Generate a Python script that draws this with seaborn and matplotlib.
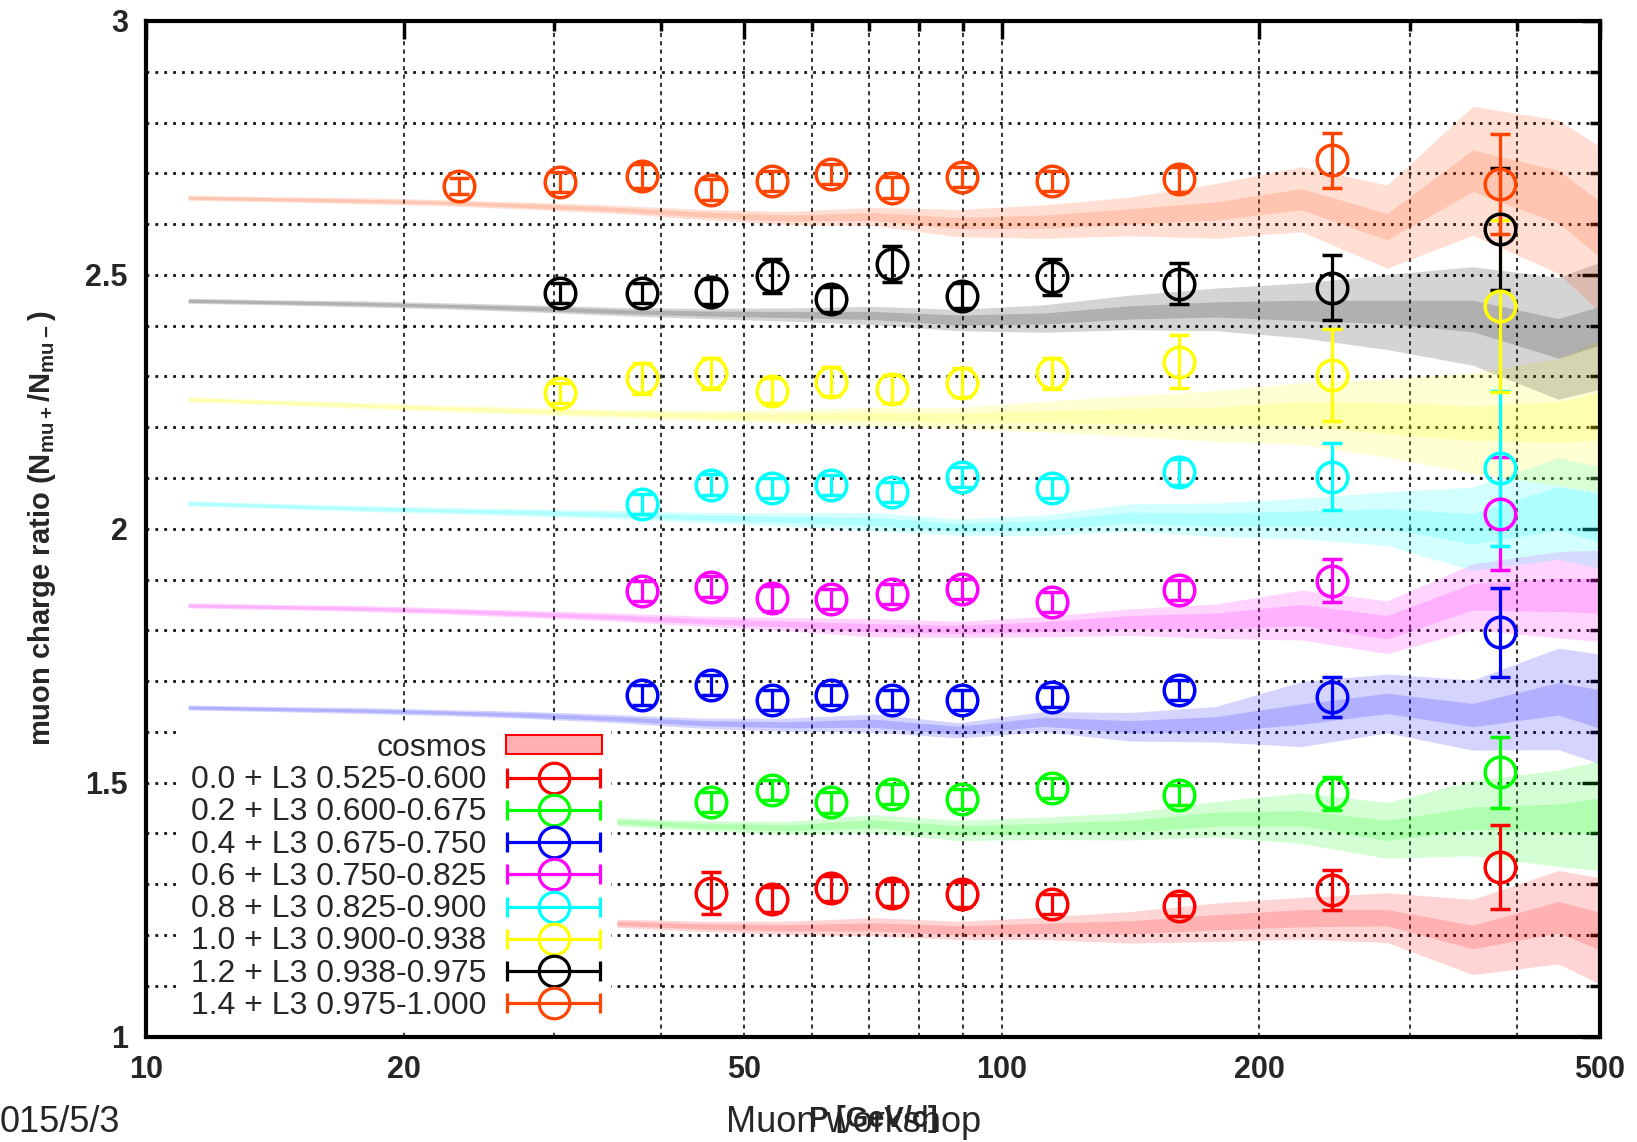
import numpy as np
import pandas as pd
import matplotlib
matplotlib.use("Agg")
import matplotlib.pyplot as plt
import seaborn as sns
from matplotlib.patches import Patch
from matplotlib.container import ErrorbarContainer
from matplotlib.legend_handler import HandlerErrorbar
from matplotlib.ticker import FixedLocator, FixedFormatter, NullFormatter

sns.set_theme(style="white")
plt.rcParams["font.family"] = ["Liberation Sans", "DejaVu Sans"]
plt.rcParams["mathtext.fontset"] = "custom"
plt.rcParams["mathtext.rm"] = "Liberation Sans"
plt.rcParams["mathtext.bf"] = "Liberation Sans:bold"

# ---------------- measured charge ratios (offset added per band) ----------------
P = [23.2, 30.5, 38.0, 45.7, 53.9, 63.1, 74.5, 89.9, 114.5, 161.0, 243.0, 382.0]

labels = [
    "0.0 + L3 0.525-0.600",
    "0.2 + L3 0.600-0.675",
    "0.4 + L3 0.675-0.750",
    "0.6 + L3 0.750-0.825",
    "0.8 + L3 0.825-0.900",
    "1.0 + L3 0.900-0.938",
    "1.2 + L3 0.938-0.975",
    "1.4 + L3 0.975-1.000",
]
colors = ["#ff0000", "#00ff00", "#0000ff", "#ff00ff",
          "#00ffff", "#ffff00", "#000000", "#ff4500"]

# first momentum bin index for each series
first_bin = [3, 3, 2, 2, 2, 1, 1, 0]

ratio_red = [1.283, 1.270, 1.292, 1.282, 1.280, 1.261, 1.258, 1.289, 1.334]
ratio_green = [1.462, 1.485, 1.461, 1.477, 1.468, 1.489, 1.476, 1.479, 1.520]
ratio_blue = [1.673, 1.692, 1.663, 1.673, 1.663, 1.663, 1.669, 1.682, 1.669, 1.796]
ratio_magenta = [1.878, 1.886, 1.863, 1.861, 1.871, 1.881, 1.856, 1.879, 1.898, 2.030]
ratio_cyan = [2.049, 2.087, 2.080, 2.086, 2.073, 2.102, 2.080, 2.112, 2.102, 2.119]
ratio_yellow = [2.267, 2.296, 2.306, 2.272, 2.290, 2.275, 2.288, 2.306, 2.329, 2.303, 2.439]
ratio_black = [2.464, 2.464, 2.467, 2.498, 2.452, 2.521, 2.459, 2.496, 2.483, 2.475, 2.590]
ratio_orange = [2.675, 2.683, 2.695, 2.668, 2.685, 2.698, 2.672, 2.693, 2.685, 2.688, 2.726, 2.679]

err_red = [0.041, 0.025, 0.025, 0.025, 0.025, 0.020, 0.020, 0.039, 0.082]
err_green = [0.020, 0.020, 0.020, 0.020, 0.020, 0.020, 0.020, 0.033, 0.069]
err_blue = [0.020, 0.020, 0.020, 0.020, 0.020, 0.020, 0.020, 0.020, 0.040, 0.087]
err_magenta = [0.020, 0.020, 0.025, 0.020, 0.020, 0.020, 0.020, 0.020, 0.043, 0.111]
err_cyan = [0.020, 0.020, 0.020, 0.020, 0.020, 0.020, 0.020, 0.025, 0.066, 0.152]
err_yellow = [0.020, 0.030, 0.030, 0.025, 0.028, 0.027, 0.028, 0.030, 0.052, 0.090, 0.170]
err_black = [0.020, 0.020, 0.025, 0.033, 0.025, 0.035, 0.025, 0.035, 0.041, 0.064, 0.120]
err_orange = [0.015, 0.020, 0.023, 0.020, 0.020, 0.020, 0.020, 0.020, 0.020, 0.025, 0.054, 0.098]

ratios = [ratio_red, ratio_green, ratio_blue, ratio_magenta,
          ratio_cyan, ratio_yellow, ratio_black, ratio_orange]
errors = [err_red, err_green, err_blue, err_magenta,
          err_cyan, err_yellow, err_black, err_orange]

# ---------------- cosmos simulation bands ----------------
P_band = [11.2, 14.1, 17.8, 22.4, 28.2, 35.5, 44.7, 56.2, 70.8,
          89.1, 112, 141, 178, 224, 282, 355, 447, 500]
P_band_low = P_band[5:]

band_red = [1.223, 1.217, 1.214, 1.216, 1.209, 1.213, 1.215, 1.225, 1.233, 1.234, 1.196, 1.235, 1.208]
band_green = [1.423, 1.415, 1.411, 1.419, 1.406, 1.410, 1.414, 1.428, 1.430, 1.406, 1.430, 1.430, 1.435]
band_blue = [1.648, 1.645, 1.642, 1.638, 1.633, 1.626, 1.617, 1.614, 1.617,
             1.603, 1.620, 1.610, 1.615, 1.635, 1.656, 1.633, 1.665, 1.645]
band_magenta = [1.849, 1.846, 1.843, 1.838, 1.832, 1.826, 1.818, 1.812, 1.805,
                1.802, 1.807, 1.816, 1.818, 1.830, 1.806, 1.866, 1.870, 1.868]
band_cyan = [2.050, 2.045, 2.040, 2.036, 2.032, 2.028, 2.022, 2.018, 2.014,
             2.003, 2.007, 2.022, 2.018, 2.020, 2.020, 2.000, 2.040, 2.022]
band_yellow = [2.255, 2.249, 2.243, 2.237, 2.232, 2.227, 2.223, 2.221, 2.221,
               2.218, 2.221, 2.222, 2.222, 2.227, 2.218, 2.208, 2.210, 2.222]
band_black = [2.449, 2.446, 2.443, 2.439, 2.434, 2.428, 2.424, 2.422, 2.420,
              2.411, 2.414, 2.426, 2.432, 2.430, 2.427, 2.419, 2.375, 2.400]
band_orange = [2.652, 2.649, 2.646, 2.642, 2.636, 2.629, 2.619, 2.612, 2.615,
               2.602, 2.605, 2.615, 2.626, 2.649, 2.595, 2.705, 2.654, 2.590]

# half widths: inner (1 sigma) and outer (2 sigma)
inner_lowP = [0.003, 0.003, 0.003, 0.003, 0.004, 0.004, 0.005, 0.006, 0.008]
outer_lowP = [0.005, 0.005, 0.006, 0.006, 0.007, 0.008, 0.010, 0.013, 0.018]

inner_red = [0.004, 0.005, 0.006, 0.008, 0.009, 0.010, 0.013, 0.015, 0.017, 0.016, 0.023, 0.031, 0.037]
outer_red = [0.008, 0.010, 0.013, 0.018, 0.018, 0.022, 0.031, 0.038, 0.041, 0.049, 0.074, 0.092, 0.105]
inner_green = [0.004, 0.005, 0.006, 0.008, 0.009, 0.010, 0.012, 0.014, 0.015, 0.020, 0.022, 0.028, 0.035]
outer_green = [0.008, 0.010, 0.013, 0.018, 0.020, 0.022, 0.027, 0.035, 0.050, 0.055, 0.074, 0.095, 0.108]
inner_blue = inner_lowP + [0.008, 0.009, 0.012, 0.015, 0.020, 0.020, 0.023, 0.032, 0.038]
outer_blue = outer_lowP + [0.015, 0.020, 0.028, 0.035, 0.064, 0.058, 0.069, 0.100, 0.108]
inner_magenta = inner_lowP + [0.008, 0.010, 0.013, 0.016, 0.021, 0.023, 0.026, 0.033, 0.034]
outer_magenta = outer_lowP + [0.016, 0.020, 0.026, 0.034, 0.049, 0.052, 0.065, 0.085, 0.090]
inner_cyan = inner_lowP + [0.008, 0.009, 0.011, 0.013, 0.015, 0.020, 0.030, 0.043, 0.048]
outer_cyan = outer_lowP + [0.016, 0.020, 0.027, 0.033, 0.040, 0.053, 0.082, 0.100, 0.100]
inner_yellow = inner_lowP + [0.010, 0.012, 0.015, 0.018, 0.023, 0.031, 0.034, 0.040, 0.047]
outer_yellow = outer_lowP + [0.021, 0.030, 0.040, 0.050, 0.061, 0.077, 0.099, 0.125, 0.150]
inner_black = inner_lowP + [0.010, 0.011, 0.013, 0.015, 0.020, 0.023, 0.031, 0.039, 0.038]
outer_black = outer_lowP + [0.021, 0.027, 0.034, 0.042, 0.054, 0.074, 0.097, 0.120, 0.125]
inner_orange = inner_lowP + [0.011, 0.013, 0.015, 0.018, 0.021, 0.026, 0.041, 0.052, 0.055]
outer_orange = outer_lowP + [0.027, 0.033, 0.038, 0.054, 0.064, 0.082, 0.127, 0.151, 0.163]

band_centers = [band_red, band_green, band_blue, band_magenta,
                band_cyan, band_yellow, band_black, band_orange]
band_inner = [inner_red, inner_green, inner_blue, inner_magenta,
              inner_cyan, inner_yellow, inner_black, inner_orange]
band_outer = [outer_red, outer_green, outer_blue, outer_magenta,
              outer_cyan, outer_yellow, outer_black, outer_orange]
band_x = [P_band_low, P_band_low, P_band, P_band, P_band, P_band, P_band, P_band]

x_major = [10, 20, 50, 100, 200, 500]
x_minor = [30, 40, 60, 70, 80, 90, 300, 400]
y_major = [1.0, 1.5, 2.0, 2.5, 3.0]
y_major_labels = ["1", "1.5", "2", "2.5", "3"]
y_minor = [1.1, 1.2, 1.3, 1.4, 1.6, 1.7, 1.8, 1.9, 2.1, 2.2, 2.3, 2.4,
           2.6, 2.7, 2.8, 2.9]

# ---------------- figure ----------------
W, H = 1637, 1142
fig = plt.figure(figsize=(W / 100, H / 100), dpi=100)
ax = fig.add_axes([146 / W, 1 - 1036.5 / H, (1600 - 146) / W, (1036.5 - 21) / H])
ax.set_facecolor("white")

band_alpha = 0.17
for xs, cen, inn, out, col in zip(band_x, band_centers, band_inner, band_outer, colors):
    df = pd.DataFrame({"P": xs, "c": cen, "i": inn, "o": out})
    ax.fill_between(df["P"], df["c"] - df["o"], df["c"] + df["o"],
                    color=col, alpha=band_alpha, lw=0, zorder=2)
    ax.fill_between(df["P"], df["c"] - df["i"], df["c"] + df["i"],
                    color=col, alpha=band_alpha, lw=0, zorder=2)

marker_kw = dict(fmt="o", ms=22, mfc="none", mew=2.5, elinewidth=2.3,
                 capsize=7.5, capthick=2.3)
for k, (vals, errs, col) in enumerate(zip(ratios, errors, colors)):
    xs = P[first_bin[k]:]
    ax.errorbar(xs, vals, yerr=errs, color=col, zorder=3 + k * 0.01, **marker_kw)

# ---------------- axes styling ----------------
ax.set_xscale("log")
ax.set_xlim(10, 500)
ax.set_ylim(1, 3)

ax.xaxis.set_major_locator(FixedLocator(x_major))
ax.xaxis.set_major_formatter(FixedFormatter([str(v) for v in x_major]))
ax.xaxis.set_minor_locator(FixedLocator(x_minor))
ax.xaxis.set_minor_formatter(NullFormatter())
ax.yaxis.set_major_locator(FixedLocator(y_major))
ax.yaxis.set_major_formatter(FixedFormatter(y_major_labels))
ax.yaxis.set_minor_locator(FixedLocator(y_minor))

ax.tick_params(which="both", direction="in", top=True, right=True,
               color="black", width=2.5)
ax.tick_params(which="major", length=13, labelsize=22, pad=13)
ax.tick_params(which="minor", length=7)
for lab in ax.get_xticklabels() + ax.get_yticklabels():
    lab.set_fontweight("bold")

for sp in ax.spines.values():
    sp.set_linewidth(3)
    sp.set_color("black")
    sp.set_zorder(6)

ax.set_axisbelow(True)
ax.yaxis.grid(True, which="both", color="#111111", lw=2.0, ls=(0, (1.0, 2.2)))
ax.xaxis.grid(True, which="both", color="#111111", lw=1.2, ls=(0, (2.5, 2.5)))

ax.set_xlabel("P [GeV/c]", fontsize=21, fontweight="bold", labelpad=15)
ax.set_ylabel(r"muon charge ratio (N$_{\mathbf{mu+}}$/N$_{\mathbf{mu-}}$)",
              fontsize=21, fontweight="bold", labelpad=20)

# ---------------- legend ----------------
handles = [Patch(facecolor="#ffb0b0", edgecolor="#ff0000", lw=1.5)]
for col in colors:
    h = ax.errorbar([np.nan], [np.nan], xerr=[1.0], color=col, fmt="o", ms=22,
                    mfc="none", mew=2.3, elinewidth=2.3, capsize=7.5, capthick=2.3)
    handles.append(h)
leg = ax.legend(handles, ["cosmos"] + labels, loc="lower right",
                bbox_to_anchor=(0.320, 0.006), borderaxespad=0.0, borderpad=0.3,
                fontsize=23, markerfirst=False, handlelength=3.0,
                handleheight=0.55, handletextpad=0.6, labelspacing=0.07,
                frameon=True, fancybox=False, framealpha=1.0,
                facecolor="white", edgecolor="none",
                handler_map={ErrorbarContainer: HandlerErrorbar(xerr_size=1.45)})
leg.set_zorder(5)

# ---------------- slide footer ----------------
fig.text(0.0, 1 - 1122 / H, "015/5/3", fontsize=26, ha="left", va="center")
fig.text(854 / W, 1 - 1122 / H, "Muon workshop", fontsize=26, ha="center", va="center")

fig.savefig("out.png", dpi=100)
